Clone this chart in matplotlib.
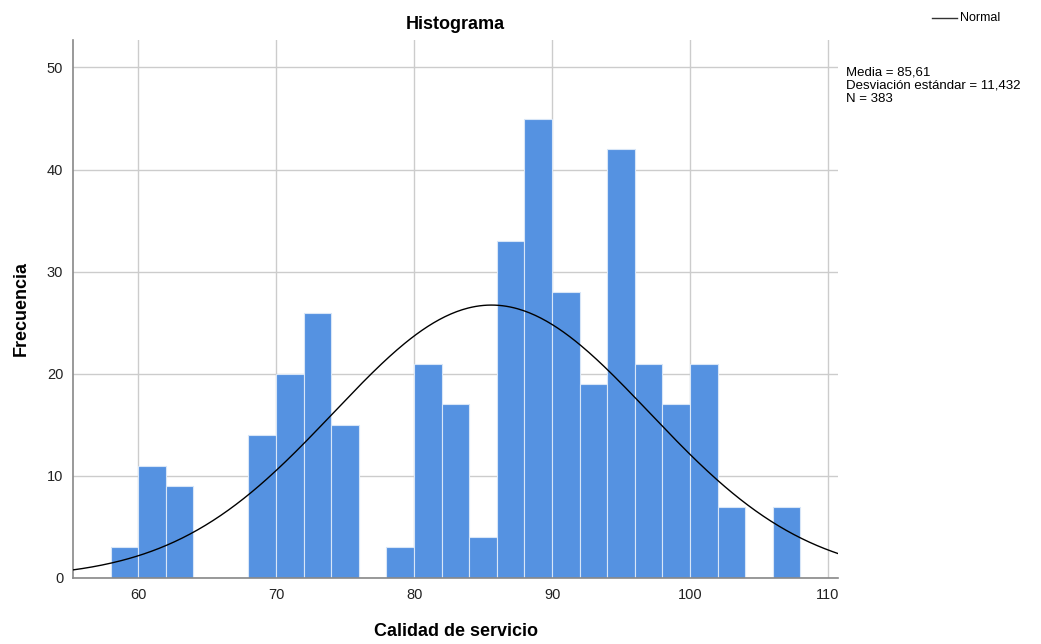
import numpy as np
import matplotlib
matplotlib.use("Agg")
import matplotlib.pyplot as plt

plt.rcParams['font.family'] = ['Liberation Sans', 'DejaVu Sans']

# bin edges (width 2) and counts per bin
bin_starts = [58, 60, 62, 64, 66, 68, 70, 72, 74, 76, 78, 80, 82, 84, 86,
              88, 90, 92, 94, 96, 98, 100, 102, 104, 106]
counts = [3, 11, 9, 0, 0, 14, 20, 26, 15, 0, 3, 21, 17, 4, 33,
          45, 28, 19, 42, 21, 17, 21, 7, 0, 7]
bin_width = 2
mean = 85.61
sd = 11.432
n = 383

fig = plt.figure(figsize=(10.41, 6.44), dpi=100)
ax = fig.add_axes([0.0701, 0.1025, 0.735, 0.8355])

ax.bar(bin_starts, counts, width=bin_width, align='edge', color='#5592E1',
       edgecolor='#D8E6F7', linewidth=0.8, zorder=2)

# normal curve scaled to counts
xs = np.linspace(55.28, 110.73, 400)
ys = n * bin_width / (sd * np.sqrt(2 * np.pi)) * np.exp(-0.5 * ((xs - mean) / sd) ** 2)
ax.plot(xs, ys, color='black', linewidth=1.0, zorder=3)

ax.set_xlim(55.28, 110.73)
ax.set_ylim(0, 52.7)
ax.set_xticks([60, 70, 80, 90, 100, 110])
ax.set_yticks([0, 10, 20, 30, 40, 50])
ax.grid(True, color='#CCCCCC', linewidth=1.0, zorder=0)
ax.set_axisbelow(True)
ax.tick_params(length=0, labelsize=10.5, colors='#222222')
ax.tick_params(axis='x', pad=7)
ax.tick_params(axis='y', pad=7)
for side in ['top', 'right']:
    ax.spines[side].set_visible(False)
for side in ['left', 'bottom']:
    ax.spines[side].set_color('#888888')
    ax.spines[side].set_linewidth(1.2)

ax.set_title('Histograma', fontsize=13, fontweight='bold', pad=8)
ax.set_xlabel('Calidad de servicio', fontsize=13, fontweight='bold', labelpad=15)
ax.set_ylabel('Frecuencia', fontsize=13, fontweight='bold', labelpad=12)

# legend entry and summary statistics on the right
fig.lines.append(plt.Line2D([0.895, 0.919], [0.972, 0.972], color='#333333',
                            linewidth=1.0, transform=fig.transFigure))
fig.text(0.922, 0.972, 'Normal', fontsize=9, va='center', ha='left')
fig.text(0.8125, 0.896,
         'Media = 85,61\nDesviación estándar = 11,432\nN = 383',
         fontsize=9.5, va='top', ha='left', linespacing=1.1)

fig.savefig('out.png', dpi=100)
